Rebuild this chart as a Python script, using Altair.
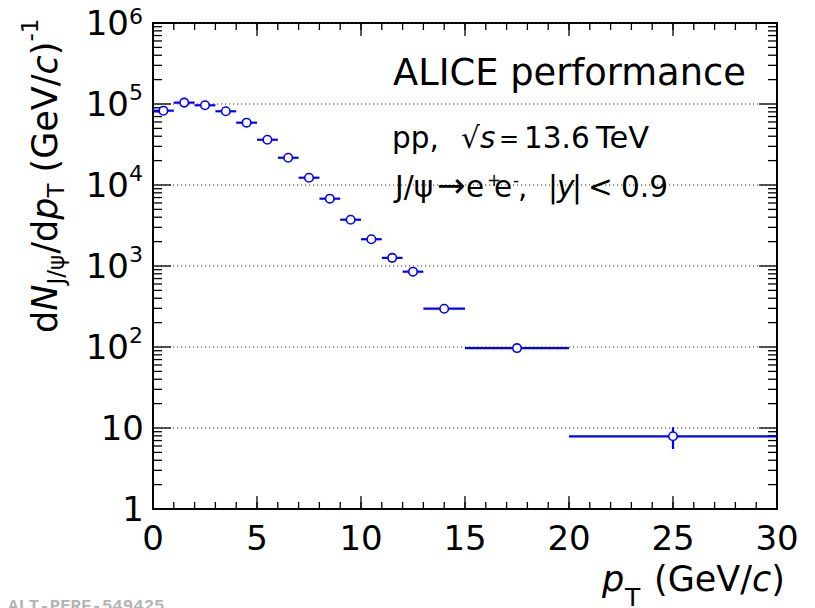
import altair as alt
import pandas as pd

# ---------------- data ----------------
bin_lo = [0, 1, 2, 3, 4, 5, 6, 7, 8, 9, 10, 11, 12, 13, 15, 20]
bin_hi = [1, 2, 3, 4, 5, 6, 7, 8, 9, 10, 11, 12, 13, 15, 20, 30]
pt_center = [0.5, 1.5, 2.5, 3.5, 4.5, 5.5, 6.5, 7.5, 8.5, 9.5, 10.5, 11.5, 12.5, 14, 17.5, 25]
yield_val = [8.27e4, 1.04e5, 9.64e4, 8.13e4, 5.88e4, 3.62e4, 2.17e4, 1.23e4,
             6.78e3, 3.73e3, 2.14e3, 1.26e3, 851, 297, 97, 7.9]
yield_lo = [8.10e4, 1.02e5, 9.45e4, 7.95e4, 5.75e4, 3.54e4, 2.12e4, 1.20e4,
            6.60e3, 3.62e3, 2.07e3, 1.21e3, 815, 280, 90, 5.5]
yield_hi = [8.45e4, 1.06e5, 9.83e4, 8.31e4, 6.01e4, 3.70e4, 2.22e4, 1.26e4,
            6.96e3, 3.84e3, 2.21e3, 1.31e3, 887, 314, 104, 10.2]

x_major = [0, 5, 10, 15, 20, 25, 30]
x_labels = ["0", "5", "10", "15", "20", "25", "30"]
x_minor = list(range(0, 31))
y_major = [1, 10, 100, 1e3, 1e4, 1e5, 1e6]
y_minor = [m * d for d in [1, 10, 100, 1e3, 1e4, 1e5] for m in range(2, 10)]
y_plain_vals = [1, 10]
y_plain_labels = ["1", "10"]
y_pow_vals = [100, 1e3, 1e4, 1e5, 1e6]
y_pow_exps = ["2", "3", "4", "5", "6"]

# ---------------- layout ----------------
W, H = 624, 486
OX, OY = 153, 23          # page position of the plot origin
BLUE = "#0000ff"
FONT = "DejaVu Sans"

DJ = {'d': .635, 'N': .748, 'J': .295, '/': .337, 'ψ': .704, 'p': .635, 'T': .611,
      ' ': .318, '(': .390, 'G': .775, 'e': .615, 'V': .684, 'c': .550, ')': .390,
      '-': .361, '1': .636}


def tw(s, size):
    return sum(DJ.get(ch, .6) for ch in s) * size


xs = alt.Scale(domain=[0, 30], nice=False, zero=False)
ys = alt.Scale(type="log", domain=[1, 1e6], nice=False)


def X(f):
    return alt.X(f"{f}:Q", scale=xs, axis=None)


def Y(f):
    return alt.Y(f"{f}:Q", scale=ys, axis=None)


df = pd.DataFrame({"lo": bin_lo, "hi": bin_hi, "x": pt_center, "y": yield_val,
                   "ylo": yield_lo, "yhi": yield_hi})

layers = []

# grid lines
grid = alt.Chart(pd.DataFrame({"v": y_major[1:]})).mark_rule(
    color="#333333", strokeWidth=1, strokeDash=[1.2, 2.8]
).encode(y=Y("v"), x=alt.value(0), x2=alt.value(W))
layers.append(grid)

# y ticks (inside, both sides)
ymaj = pd.DataFrame({"v": y_major})
ymin = pd.DataFrame({"v": y_minor})
for data, ln in [(ymaj, 18), (ymin, 9)]:
    layers.append(alt.Chart(data).mark_rule(color="black", strokeWidth=1.3).encode(
        y=Y("v"), x=alt.value(0), x2=alt.value(ln)))
    layers.append(alt.Chart(data).mark_rule(color="black", strokeWidth=1.3).encode(
        y=Y("v"), x=alt.value(W - ln), x2=alt.value(W)))

# x ticks (inside, both sides)
xmaj = pd.DataFrame({"v": x_major})
xmin = pd.DataFrame({"v": x_minor})
for data, ln in [(xmaj, 13), (xmin, 7)]:
    layers.append(alt.Chart(data).mark_rule(color="black", strokeWidth=1.3).encode(
        x=X("v"), y=alt.value(H), y2=alt.value(H - ln)))
    layers.append(alt.Chart(data).mark_rule(color="black", strokeWidth=1.3).encode(
        x=X("v"), y=alt.value(0), y2=alt.value(ln)))

# error bars
layers.append(alt.Chart(df).mark_rule(color=BLUE, strokeWidth=2.2).encode(
    x=X("lo"), x2="hi:Q", y=Y("y")))
layers.append(alt.Chart(df).mark_rule(color=BLUE, strokeWidth=2.2).encode(
    x=X("x"), y=Y("ylo"), y2="yhi:Q"))

# markers
layers.append(alt.Chart(df).mark_point(
    shape="circle", size=72, filled=True, fill="white", stroke=BLUE,
    strokeWidth=1.6, opacity=1).encode(x=X("x"), y=Y("y")))

# x tick labels
layers.append(alt.Chart(pd.DataFrame({"v": x_major, "t": x_labels})).mark_text(
    font=FONT, fontSize=34, align="center", baseline="alphabetic", dy=41, color="black"
).encode(x=X("v"), y=alt.value(H), text="t:N"))

# y tick labels
layers.append(alt.Chart(pd.DataFrame({"v": y_plain_vals, "t": y_plain_labels})).mark_text(
    font=FONT, fontSize=34, align="right", baseline="alphabetic", dy=12, color="black"
).encode(y=Y("v"), x=alt.value(-9), text="t:N"))
layers.append(alt.Chart(pd.DataFrame({"v": y_pow_vals, "t": ["10"] * 5})).mark_text(
    font=FONT, fontSize=34, align="right", baseline="alphabetic", dy=12, color="black"
).encode(y=Y("v"), x=alt.value(-24), text="t:N"))
layers.append(alt.Chart(pd.DataFrame({"v": y_pow_vals[:-1], "t": y_pow_exps[:-1]})).mark_text(
    font=FONT, fontSize=22, align="right", baseline="alphabetic", dy=-4, color="black"
).encode(y=Y("v"), x=alt.value(-10), text="t:N"))
layers.append(alt.Chart(pd.DataFrame({"v": y_pow_vals[-1:], "t": y_pow_exps[-1:]})).mark_text(
    font=FONT, fontSize=22, align="right", baseline="alphabetic", dy=1, color="black"
).encode(y=Y("v"), x=alt.value(-10), text="t:N"))

# ---------------- horizontal annotation pieces (page coords) ----------------
rows = []  # text, page_x, page_baseline, size, italic


def add(t, px, py, size, it=False):
    rows.append({"t": t, "px": px - OX, "py": py - OY, "s": size, "it": it})


add("ALICE performance", 393, 85, 36.8)
b2 = 148
f2 = 29.5
add("pp,", 392, b2, f2)
add("√", 461, b2, f2)
add("s", 480, b2, f2, True)
add("=", 499, b2 - 1.5, 24)
add("13.6", 524, b2, f2)
add("TeV", 596, b2, 30.5)
b3 = 196.5
add("J/ψ", 395, b3, f2)
add("→", 437, b3, 34)
add("e", 466, b3, f2)
add("+", 487, b3 - 11, 17)
add("e", 494, b3, f2)
add("-", 513, b3 - 11, 17)
add(",", 518, b3, f2)
add("|", 548, b3, f2)
add("y", 557, b3, f2, True)
add("|", 572, b3, f2)
add("<", 588, b3, f2)
add("0.9", 621, b3, f2)

# x axis title
xb = 591
add("p", 602, xb, 35, True)
add("T", 625, xb + 15, 25)
add("(GeV/", 654, xb, 35)
cx = 654 + tw("(GeV/", 35)
add("c", cx, xb, 35, True)
add(")", cx + tw("c", 35), xb, 35)

ann = pd.DataFrame(rows)
for it in [False, True]:
    sub = ann[ann["it"] == it]
    layers.append(alt.Chart(sub).mark_text(
        font=FONT, align="left", baseline="alphabetic", color="black",
        fontStyle="italic" if it else "normal"
    ).encode(x=alt.X("px:Q", scale=None, axis=None), y=alt.Y("py:Q", scale=None, axis=None),
             text="t:N", size=alt.Size("s:Q", scale=None, legend=None)))

# ---------------- rotated y axis title ----------------
yrows = []
base_x = 57 - OX
cy = 333 - OY
for t, size, it, off, gap in [("d", 35, False, 0, 0), ("N", 35, True, 0, 0), ("J/ψ", 23, False, 7, 0),
                              ("/d", 35, False, 0, 0), ("p", 35, True, 0, 0), ("T", 23, False, 7, 0),
                              ("(GeV/", 35, False, 0, tw(" ", 35)), ("c", 35, True, 0, 0),
                              (")", 35, False, 0, 0), ("-1", 23, False, -19, 0)]:
    cy -= gap
    yrows.append({"t": t, "px": base_x + off, "py": cy, "s": size, "it": it})
    cy -= tw(t, size)
ydf = pd.DataFrame(yrows)
for it in [False, True]:
    sub = ydf[ydf["it"] == it]
    layers.append(alt.Chart(sub).mark_text(
        font=FONT, align="left", baseline="alphabetic", color="black", angle=270,
        fontStyle="italic" if it else "normal"
    ).encode(x=alt.X("px:Q", scale=None, axis=None), y=alt.Y("py:Q", scale=None, axis=None),
             text="t:N", size=alt.Size("s:Q", scale=None, legend=None)))

# watermark
layers.append(alt.Chart(pd.DataFrame({"t": ["ALT-PERF-549425"], "px": [8 - OX], "py": [611 - OY]})).mark_text(
    font="Liberation Mono", fontWeight="bold", fontSize=17.4, align="left",
    baseline="alphabetic", color="#b4b4b4"
).encode(x=alt.X("px:Q", scale=None, axis=None), y=alt.Y("py:Q", scale=None, axis=None), text="t:N"))

chart = alt.layer(*layers).resolve_scale(x="independent", y="independent").properties(
    width=W, height=H,
    autosize=alt.AutoSizeParams(type="none"),
    padding={"left": OX - 8, "top": OY - 8, "right": 30, "bottom": 600 - (OY - 8) - H},
).configure_view(stroke="black", strokeWidth=2)

chart.save("out.html", embed_options={"renderer": "svg", "actions": False})
